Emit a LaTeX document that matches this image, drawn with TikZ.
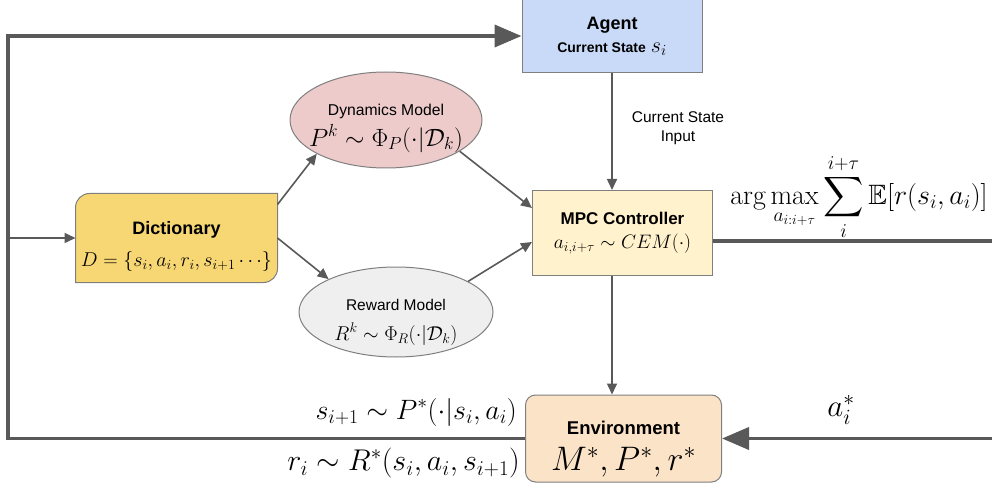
\RequirePackage{fix-cm}
\documentclass[tikz,border=0pt]{standalone}
\usepackage{amssymb}
\usepackage{fontspec}
\newfontfamily\arial{Liberation Sans}
\usetikzlibrary{arrows.meta,shapes.geometric,backgrounds}
\definecolor{linegray}{HTML}{595959}
\definecolor{boxgray}{HTML}{7F7F7F}
\definecolor{agentblue}{HTML}{C9DAF8}
\definecolor{dictgold}{HTML}{F7D774}
\definecolor{dynpink}{HTML}{EDCBCB}
\definecolor{rewgray}{HTML}{EFEFEF}
\definecolor{mpcyellow}{HTML}{FFF2CC}
\definecolor{envorange}{HTML}{FBE3C8}
\newcommand{\sz}[2]{\fontsize{#1}{#2}\selectfont}
\begin{document}
\begin{tikzpicture}[x=1pt, y=-1pt, line join=miter, font=\arial,
	box/.style={draw=boxgray, line width=1pt, align=center, inner sep=0pt},
	txt/.style={align=center, inner sep=0pt},
	loopline/.style={draw=linegray, line width=3.8pt},
	loopend/.style={loopline, -{Triangle[length=27pt,width=22pt]}},
	flow/.style={draw=linegray, line width=1.6pt, -{Triangle[length=11pt,width=10pt]}}]
	\useasboundingbox (0,0) rectangle (992,486);
	\node[box, fill=agentblue, minimum width=180pt, minimum height=74pt, font=\arial\sz{18}{23}\bfseries] (agent) at (612,36)
		{Agent\\{\sz{14}{17}Current State} {\sz{22}{24}$s_i$}};
	\node[box, draw=none, minimum width=201pt, minimum height=88pt] (dict) at (176.5,238) {};
	\begin{scope}[on background layer]
		\draw[box, fill=dictgold] (dict.south west) [rounded corners=14pt] -- (dict.north west) [sharp corners] -- (dict.north east)
			[rounded corners=14pt] -- (dict.south east) [sharp corners] -- cycle;
	\end{scope}
	\node[txt, font=\arial\sz{18}{32}\bfseries] (dicttext) at ([yshift=-8pt]dict.center)
		{Dictionary\\{\sz{20}{24}$D=\{s_i,a_i,r_i,s_{i+1}\cdots\}$}};
	\node[box, ellipse, fill=dynpink, minimum width=192pt, minimum height=96pt] (dyn) at (386,120) {};
	\node[txt, font=\arial\sz{15.7}{31}] (dyntext) at (386,128) {Dynamics Model\\{\sz{25}{28}$P^k\sim\Phi_P(\cdot|\mathcal{D}_k)$}};
	\node[box, ellipse, fill=rewgray, minimum width=194pt, minimum height=90pt] (rew) at (396,312) {};
	\node[txt, font=\arial\sz{15.5}{30}] (rewtext) at (396,322) {Reward Model\\{\sz{20}{24}$R^k\sim\Phi_R(\cdot|\mathcal{D}_k)$}};
	\node[box, fill=mpcyellow, minimum width=180pt, minimum height=85pt, font=\arial\sz{17}{24}\bfseries] (mpc) at (622.5,233)
		{MPC Controller\\{\sz{19.5}{22}$a_{i,i+\tau}\sim CEM(\cdot)$}};
	\node[box, fill=envorange, rounded corners=10pt, minimum width=196pt, minimum height=87pt] (env) at (623.5,438.5) {};
	\node[txt, font=\arial\sz{18.5}{36}\bfseries] (envtext) at ([yshift=-10.5pt]env.center)
		{Environment\\{\sz{34}{36}$M^*,P^*,r^*$}};
	\node[txt, font=\arial\sz{15.5}{19}] (lblinput) at (678,128) {Current State\\Input};
	\node[txt] (lblmax) at (859,197) {\sz{28}{32}$\displaystyle\arg\max_{a_{i:i+\tau}}\sum_i^{i+\tau}\mathbb{E}[r(s_i,a_i)]$};
	\node[txt, anchor=east] (lblnext) at (517,412) {\sz{28}{32}$s_{i+1}\sim P^*(\cdot|s_i,a_i)$};
	\node[txt, anchor=east] (lblrew) at (520,463) {\sz{30}{34}$r_i\sim R^*(s_i,a_i,s_{i+1})$};
	\node[txt] (lblact) at (841,410) {\sz{31}{34}$a_i^*$};
	\coordinate (rail) at (8,238);
	\coordinate (outR) at (1000,241);
	\draw[loopend] (env.west) -- (env.west -| rail) -- (agent.west -| rail) -- (agent.west);
	\draw[flow] (rail) -- (dict.west);
	\draw[flow] ([yshift=-11pt]dict.north east) -- (dyn.206);
	\draw[flow] (dict.east) -- (rew.154);
	\draw[flow] (dyn.337) -- ([yshift=25pt]mpc.west);
	\draw[flow] (rew.23) -- ([yshift=-9pt]mpc.west);
	\draw[flow] (agent.south) -- (agent.south |- mpc.north);
	\draw[flow] (agent.south |- mpc.south) -- (agent.south |- env.north);
	\draw[loopline] ([yshift=-8pt]mpc.east) -- ([yshift=-8pt]mpc.east -| outR);
	\draw[loopend] (env.east -| outR) -- (env.east);
\end{tikzpicture}
\end{document}
